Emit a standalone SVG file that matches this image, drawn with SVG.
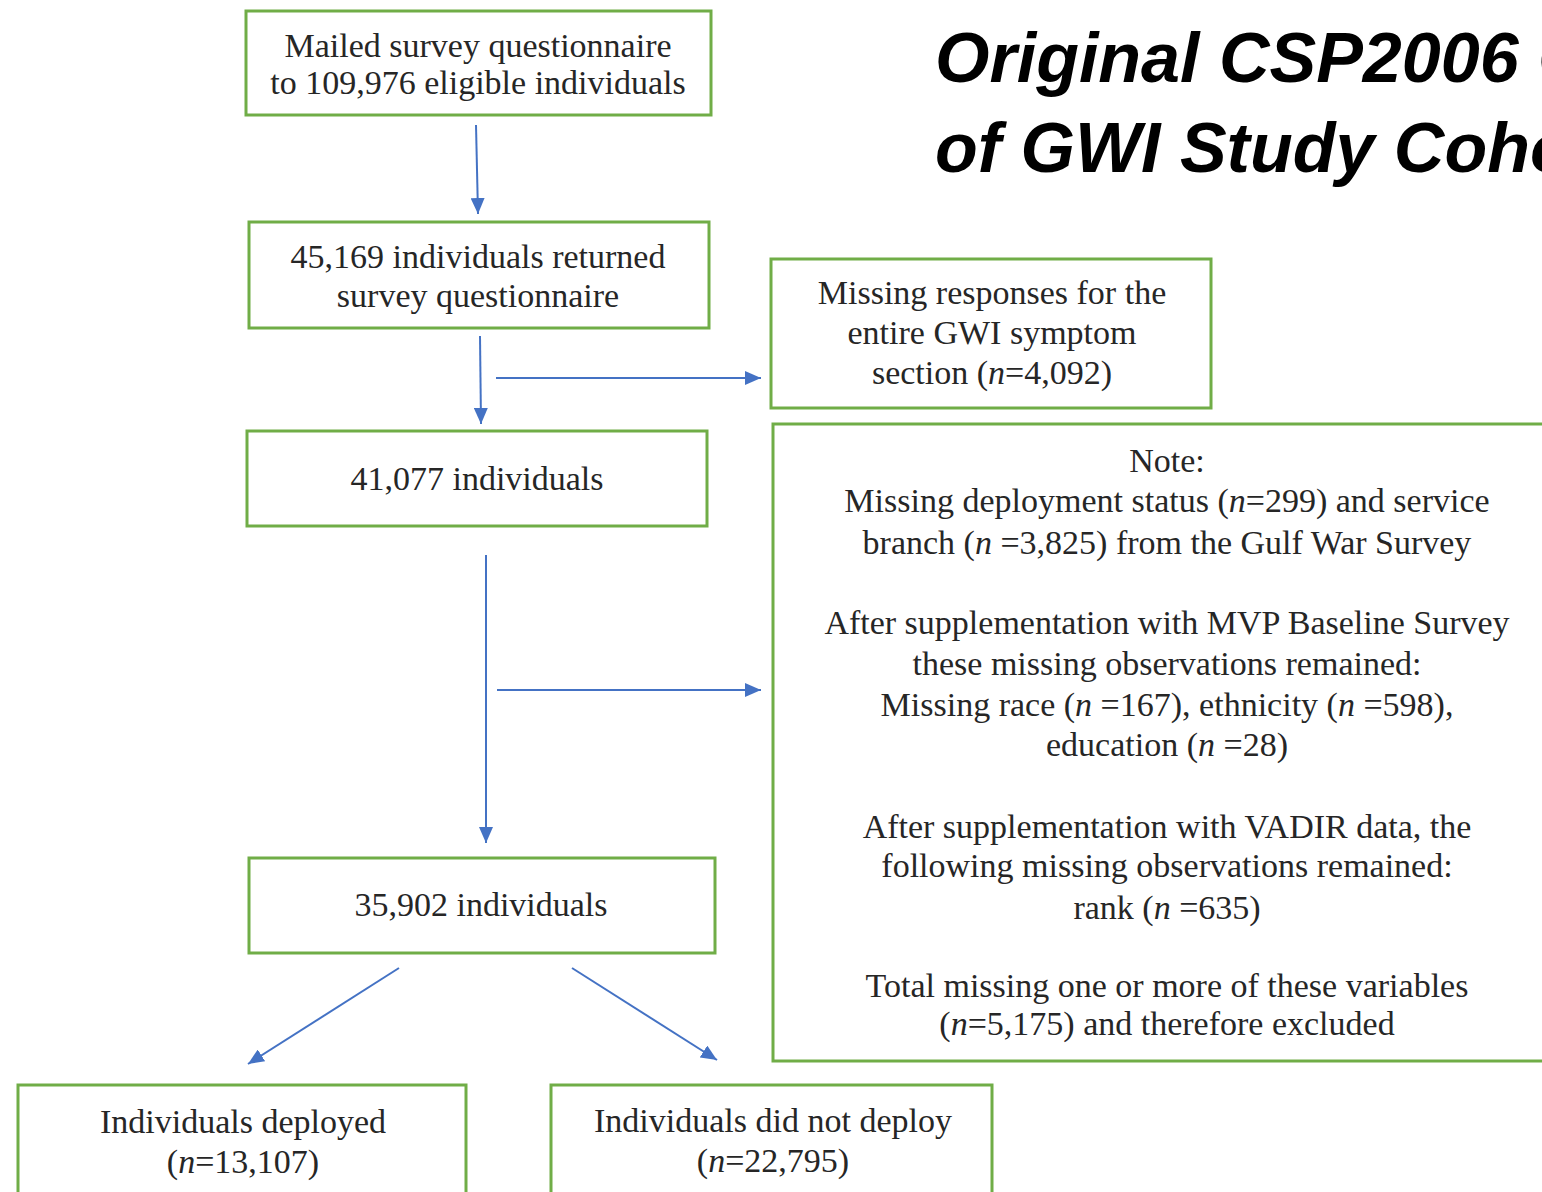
<svg xmlns="http://www.w3.org/2000/svg" width="1542" height="1192" viewBox="0 0 1542 1192">
<defs>
<marker id="ah" viewBox="0 0 16 14" refX="16" refY="7" markerWidth="16" markerHeight="14" markerUnits="userSpaceOnUse" orient="auto">
<path d="M0,0 L16,7 L0,14 Z" fill="#4472C4"/>
</marker>
<style>
.box{fill:#fff;stroke:#70AD47;stroke-width:3}
.t{font-family:"Liberation Serif","Times New Roman",serif;font-size:34px;fill:#262626;text-anchor:middle}
.i{font-style:italic}
.title{font-family:"Liberation Sans",Arial,sans-serif;font-size:70px;font-weight:bold;font-style:italic;fill:#000}
.c{fill:none;stroke:#4472C4;stroke-width:2;marker-end:url(#ah)}
</style>
</defs>
<rect width="1542" height="1192" fill="#fff"/>
<g id="title">
<text class="title" x="935" y="82">Original CSP2006 C</text>
<text class="title" x="935" y="172">of GWI Study Coho</text>
</g>
<g id="connectors">
<path class="c" d="M476,125 L478,214"/>
<path class="c" d="M480,336 L481,424"/>
<path class="c" d="M496,378 L761,378"/>
<path class="c" d="M486,555 L486,843"/>
<path class="c" d="M497,690 L761,690"/>
<path class="c" d="M399,968 L248,1064"/>
<path class="c" d="M572,968 L717,1060"/>
</g>
<g id="n1">
<rect class="box" x="246" y="11" width="465" height="104"/>
<text class="t" x="478" y="57">Mailed survey questionnaire</text>
<text class="t" x="478" y="94">to 109,976 eligible individuals</text>
</g>
<g id="n2">
<rect class="box" x="249" y="222" width="460" height="106"/>
<text class="t" x="478" y="268">45,169 individuals returned</text>
<text class="t" x="478" y="307">survey questionnaire</text>
</g>
<g id="n3">
<rect class="box" x="771" y="259" width="440" height="149"/>
<text class="t" x="992" y="304">Missing responses for the</text>
<text class="t" x="992" y="344">entire GWI symptom</text>
<text class="t" x="992" y="384">section (<tspan class="i">n</tspan>=4,092)</text>
</g>
<g id="n4">
<rect class="box" x="247" y="431" width="460" height="95"/>
<text class="t" x="477" y="490">41,077 individuals</text>
</g>
<g id="note">
<rect class="box" x="773" y="424" width="800" height="637"/>
<text class="t" x="1167" y="472">Note:</text>
<text class="t" x="1167" y="512">Missing deployment status (<tspan class="i">n</tspan>=299) and service</text>
<text class="t" x="1167" y="554">branch (<tspan class="i">n</tspan> =3,825) from the Gulf War Survey</text>
<text class="t" x="1167" y="634">After supplementation with MVP Baseline Survey</text>
<text class="t" x="1167" y="675">these missing observations remained:</text>
<text class="t" x="1167" y="716">Missing race (<tspan class="i">n</tspan> =167), ethnicity (<tspan class="i">n</tspan> =598),</text>
<text class="t" x="1167" y="756">education (<tspan class="i">n</tspan> =28)</text>
<text class="t" x="1167" y="838">After supplementation with VADIR data, the</text>
<text class="t" x="1167" y="877">following missing observations remained:</text>
<text class="t" x="1167" y="919">rank (<tspan class="i">n</tspan> =635)</text>
<text class="t" x="1167" y="997">Total missing one or more of these variables</text>
<text class="t" x="1167" y="1035">(<tspan class="i">n</tspan>=5,175) and therefore excluded</text>
</g>
<g id="n5">
<rect class="box" x="249" y="858" width="466" height="95"/>
<text class="t" x="481" y="916">35,902 individuals</text>
</g>
<g id="n6">
<rect class="box" x="18" y="1085" width="448" height="130"/>
<text class="t" x="243" y="1133">Individuals deployed</text>
<text class="t" x="243" y="1173">(<tspan class="i">n</tspan>=13,107)</text>
</g>
<g id="n7">
<rect class="box" x="551" y="1085" width="441" height="130"/>
<text class="t" x="773" y="1132">Individuals did not deploy</text>
<text class="t" x="773" y="1172">(<tspan class="i">n</tspan>=22,795)</text>
</g>
</svg>
